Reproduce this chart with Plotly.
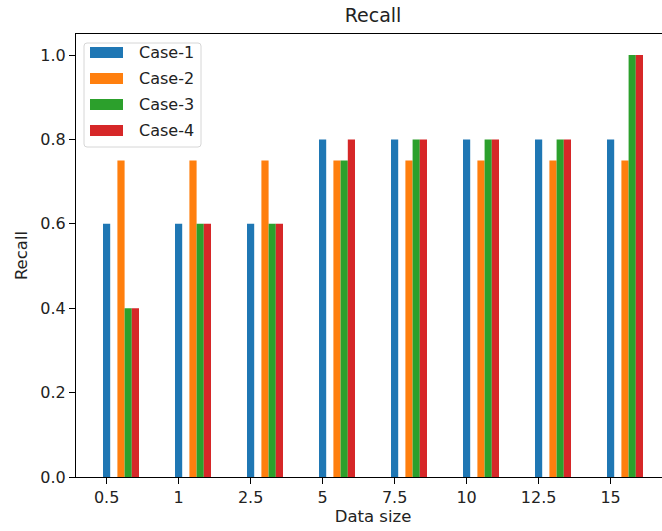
import plotly.graph_objects as go

categories = ["0.5", "1", "2.5", "5", "7.5", "10", "12.5", "15"]
case1 = [0.6, 0.6, 0.6, 0.8, 0.8, 0.8, 0.8, 0.8]
case2 = [0.75, 0.75, 0.75, 0.75, 0.75, 0.75, 0.75, 0.75]
case3 = [0.4, 0.6, 0.6, 0.75, 0.8, 0.8, 0.8, 1.0]
case4 = [0.4, 0.6, 0.6, 0.8, 0.8, 0.8, 0.8, 1.0]
names = ["Case-1", "Case-2", "Case-3", "Case-4"]
offsets = [0.0, 0.2, 0.3, 0.4]
colors = ["#1f77b4", "#ff7f0e", "#2ca02c", "#d62728"]
values = [case1, case2, case3, case4]

W, H = 670, 531  # figure slightly wider than the 662 window: right edge is cropped like the reference
# plot area in page pixels
pl, pt, pb = 76, 34, 477
L, T = pl, pt
B = H - pb
R = 0
pw = W - L - R
ph = H - T - B
pxu = 72.0
x0 = -0.425
x1 = x0 + pw / pxu

def px(xpage):
    return (xpage - pl) / pw

def py(ypage):
    return (pb - ypage) / ph

idx = list(range(len(categories)))
fig = go.Figure()
for name, vals, off, col in zip(names, values, offsets, colors):
    fig.add_trace(go.Bar(
        x=[i + off for i in idx], y=vals, name=name, width=0.1,
        marker=dict(color=col, line=dict(width=0)), showlegend=False,
    ))

font = "DejaVu Sans"
shapes = []
annotations = []
# legend frame (rounded corners)
fx0, fx1, fy0, fy1, r = px(84), px(201), py(147), py(43), 3
rx, ry = r / pw, r / ph
path = (f"M {fx0+rx},{fy1} L {fx1-rx},{fy1} Q {fx1},{fy1} {fx1},{fy1-ry} "
        f"L {fx1},{fy0+ry} Q {fx1},{fy0} {fx1-rx},{fy0} L {fx0+rx},{fy0} "
        f"Q {fx0},{fy0} {fx0},{fy0+ry} L {fx0},{fy1-ry} Q {fx0},{fy1} {fx0+rx},{fy1} Z")
shapes.append(dict(type="path", xref="paper", yref="paper", path=path,
                   line=dict(color="#d6d6d6", width=1), fillcolor="rgba(255,255,255,0.8)", layer="above"))
for i, (name, col) in enumerate(zip(names, colors)):
    yc = 52.5 + 26 * i
    shapes.append(dict(type="rect", xref="paper", yref="paper",
                       x0=px(90), x1=px(123), y0=py(yc + 5.5), y1=py(yc - 5.5),
                       line=dict(width=0), fillcolor=col, layer="above"))
    annotations.append(dict(text=name, xref="paper", yref="paper", x=px(137), y=py(yc),
                            xanchor="left", yanchor="middle", showarrow=False,
                            font=dict(family=font, size=16, color="#222222")))

fig.update_layout(
    width=W, height=H,
    margin=dict(l=L, r=R, t=T, b=B, pad=0),
    plot_bgcolor="white", paper_bgcolor="white",
    font=dict(family=font, size=16, color="#222222"),
    barmode="overlay",
    title=dict(text="Recall", x=px(373), xref="paper", xanchor="center",
               y=1 - 15.5 / H, yanchor="middle", yref="container",
               font=dict(family=font, size=19, color="#222222")),
    showlegend=False,
    shapes=shapes,
    annotations=annotations,
)
fig.update_xaxes(
    range=[x0, x1], tickmode="array", tickvals=idx, ticktext=categories,
    showgrid=False, zeroline=False, showline=True, linecolor="black", linewidth=1,
    mirror=True, ticks="outside", ticklen=6, tickcolor="black",
    title=dict(text="Data size", standoff=4, font=dict(family=font, size=16.5, color="#222222")),
    tickfont=dict(family=font, size=16, color="#222222"),
)
fig.update_yaxes(
    range=[0, 1.05], tickmode="linear", tick0=0, dtick=0.2, tickformat=".1f",
    showgrid=False, zeroline=False, showline=True, linecolor="black", linewidth=1,
    mirror=False, ticks="outside", ticklen=6, tickcolor="black",
    title=dict(text="Recall", standoff=8, font=dict(family=font, size=16.5, color="#222222")),
    tickfont=dict(family=font, size=16, color="#222222"),
)
fig.write_html("out.html", config={"displayModeBar": False},
               post_script="document.body.style.margin='0';document.body.style.overflow='hidden';")
